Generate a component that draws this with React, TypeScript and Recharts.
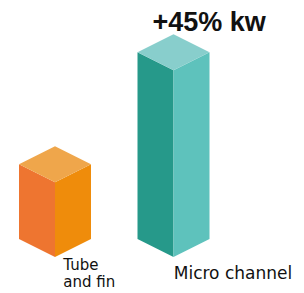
import { Bar, BarChart, Cell, XAxis, YAxis } from "recharts";

const categories = ["Tube and fin", "Micro channel"];
const categoryLines = [["Tube", "and fin"], ["Micro channel"]];
const capacity = [100, 145];
const gainLabel = "+45% kw";

const TOP = ["#EFA64B", "#88CECC"];
const LEFT = ["#EE7530", "#26998A"];
const RIGHT = ["#EF8C0B", "#5EC2BC"];
const FONT = "'DejaVu Sans', sans-serif";

const data = categories.map((name, i) => ({ name, valor: capacity[i] }));

function Caixa3D(props: any) {
  const { x, y, width, height, index } = props;
  const meio = x + width / 2;
  const d = width / 4;
  const base = y + height;
  return (
    <g>
      <polygon points={`${x},${y - d} ${meio},${y} ${meio},${base} ${x},${base - d}`} fill={LEFT[index]} />
      <polygon points={`${meio},${y} ${x + width},${y - d} ${x + width},${base - d} ${meio},${base}`} fill={RIGHT[index]} />
      <polygon points={`${x},${y - d} ${meio},${y - 2 * d} ${x + width},${y - d} ${meio},${y}`} fill={TOP[index]} />
    </g>
  );
}

function Rotulo(props: any) {
  const { x, y, payload, index } = props;
  const linhas = categoryLines[index] ?? [payload.value];
  const dx = index === 0 ? 8 : 0;
  const duas = linhas.length > 1;
  return (
    <text x={x + dx} y={y + (duas ? 13 : 22)} fontFamily={FONT} fontSize={duas ? 15 : 17} fill="#111" textAnchor="start">
      {linhas.map((l: string, i: number) => (
        <tspan key={i} x={x + dx} dy={i === 0 ? 0 : 17}>
          {l}
        </tspan>
      ))}
    </text>
  );
}

function Ganho(props: any) {
  const { x, y, width, index } = props;
  if (index !== 1) return null;
  return (
    <text x={x + 15} y={y - width / 2 - 3} fontFamily="'Liberation Sans', Arial, sans-serif" fontWeight="bold" fontSize={27} fill="#111">
      {gainLabel}
    </text>
  );
}

export default function App() {
  return (
    <div style={{ position: "absolute", left: 0, top: 0, background: "#fff" }}>
      <BarChart width={304} height={293} data={data} margin={{ top: 33, right: 71, bottom: 0, left: -4 }}>
        <XAxis dataKey="name" height={36} axisLine={false} tickLine={false} tickSize={0} tickMargin={0} tick={<Rotulo />} interval={0} />
        <YAxis hide domain={[70, 160]} />
        <Bar dataKey="valor" barSize={72} shape={<Caixa3D />} label={<Ganho />} isAnimationActive={false}>
          {data.map((_, i) => (
            <Cell key={i} fill={LEFT[i]} />
          ))}
        </Bar>
      </BarChart>
    </div>
  );
}
